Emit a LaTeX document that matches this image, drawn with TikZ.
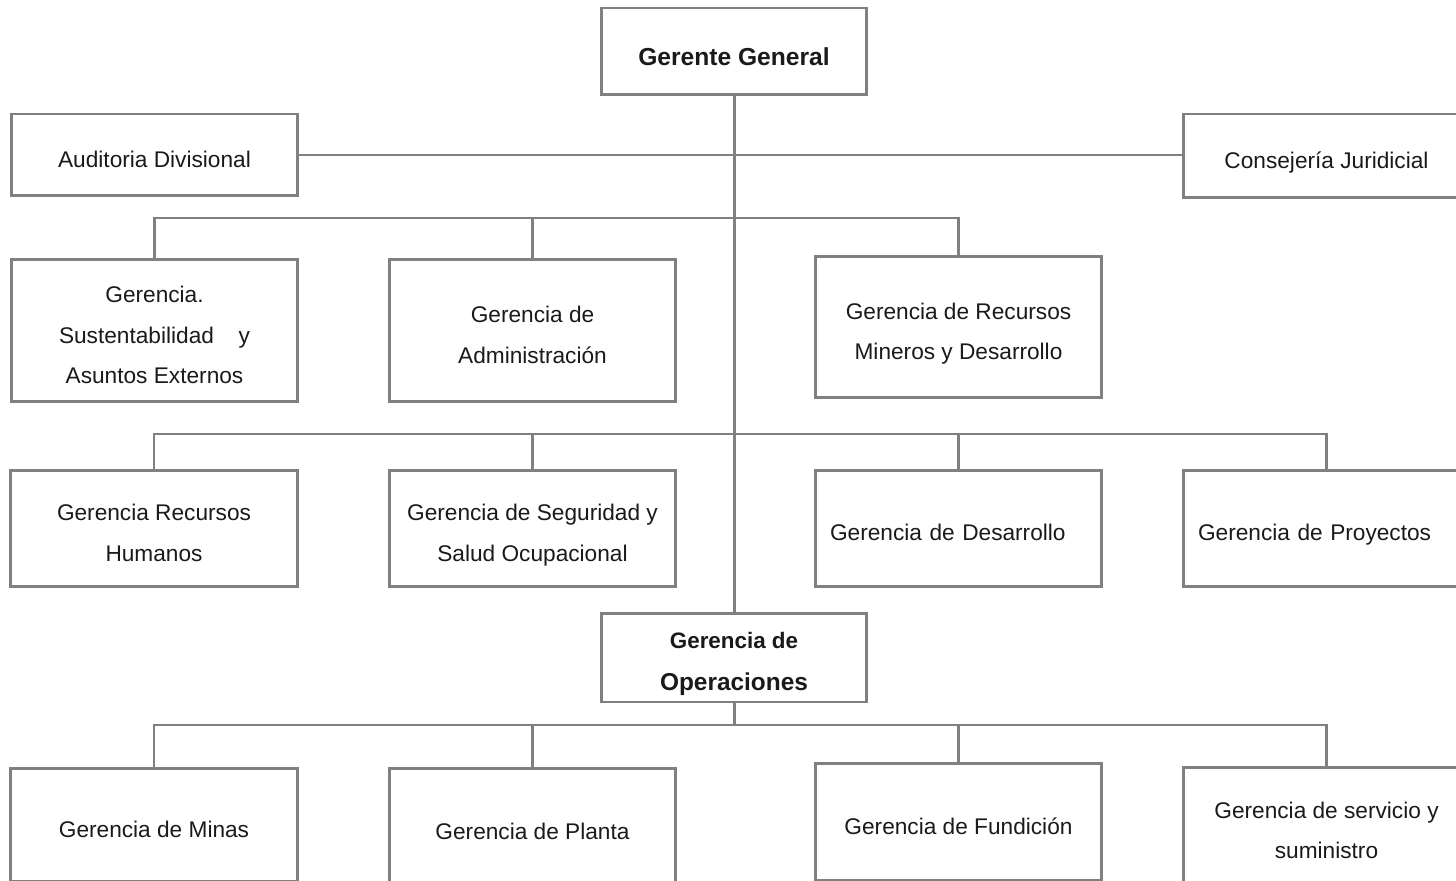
\documentclass[tikz,border=0pt]{standalone}
\usepackage{fontspec}
\setmainfont{Liberation Sans}
\usetikzlibrary{positioning}

\definecolor{boxgray}{RGB}{128,128,128}
\definecolor{txtgray}{RGB}{26,26,26}

\begin{document}
\begin{tikzpicture}[x=0.02cm,y=-0.02cm,
    box/.style={draw=boxgray,fill=white,line width=1.7pt,minimum width=5.74cm,
        inner sep=0pt,align=center,text=txtgray,font=\fontsize{12.9}{23.3}\selectfont,
        text height=0.62cm,text depth=0.12cm},
    twolines/.style={text height=1.44cm},
    threelines/.style={text height=2.26cm},
    boxl/.style={box,align=left,text width=5.14cm},
    link/.style={draw=boxgray,line width=1.7pt}]

    % Page frame (the picture is cut at the right and bottom)
    \useasboundingbox (0,0) rectangle (1456,881);
    \clip (0,0) rectangle (1456,881);
    \fill [white] (0,0) rectangle (1456,881);

    % Bus lines
    \coordinate (bus1) at (0,218);
    \coordinate (bus2) at (0,434);
    \coordinate (bus3) at (0,725);

    % Top
    \node [box,minimum width=5.32cm,minimum height=1.74cm,text height=0.69cm,
        font=\bfseries\fontsize{14}{17}\selectfont] (gg) at (734,51.5) {Gerente General};
    \node [box,minimum height=1.64cm] (aud) at (154.5,155) {Auditoria Divisional};
    \node [box,minimum height=1.68cm] (cons) at (1326.5,156) {Consejería Juridicial};

    % First row
    \node [box,threelines,minimum height=2.86cm] (sus) at (154.5,330.5)
        {Gerencia.\\\makebox[3.82cm]{Sustentabilidad\hfill y}\\Asuntos Externos};
    \node [box,twolines,minimum height=2.86cm] (adm) at (532.5,330.5) {Gerencia de\\Administración};
    \node [box,twolines,minimum height=2.84cm] (rmd) at (958.5,327) {Gerencia de Recursos\\Mineros y Desarrollo};

    % Second row
    \node [box,twolines,minimum height=2.34cm] (rrh) at (154,528.5) {Gerencia Recursos\\Humanos};
    \node [box,twolines,minimum height=2.34cm] (seg) at (532.5,528.5) {Gerencia de Seguridad y\\Salud Ocupacional};
    \node [boxl,minimum height=2.34cm] (des) at (958.5,528.5) {Gerencia de Desarrollo};
    \node [boxl,minimum height=2.34cm] (pro) at (1326.5,528.5) {Gerencia de Proyectos};

    % Operations
    \node [box,minimum width=5.32cm,minimum height=1.78cm,text height=1.46cm,
        font=\bfseries\fontsize{12.75}{24}\selectfont] (ope) at (734,657.5)
        {Gerencia de\\\fontsize{13.9}{24}\selectfont Operaciones};

    % Bottom row
    \node [box,minimum height=2.26cm] (min) at (154,824.5) {Gerencia de Minas};
    \node [box,minimum height=2.34cm] (pla) at (532.5,826.5) {Gerencia de Planta};
    \node [box,minimum height=2.34cm] (fun) at (958.5,821.5) {Gerencia de Fundición};
    \node [box,twolines,minimum height=2.36cm] (ser) at (1326.5,826) {Gerencia de servicio y\\suministro};

    % Connectors
    \draw [link] (gg.south) -- (ope.north);
    \draw [link] (aud.east) -- (aud.east -| cons.west);

    \draw [link] (sus.north) -- (sus.north |- bus1) -- (rmd.north |- bus1) -- (rmd.north);
    \draw [link] (adm.north) -- (adm.north |- bus1);

    \draw [link] (rrh.north) -- (rrh.north |- bus2) -- (pro.north |- bus2) -- (pro.north);
    \draw [link] (seg.north) -- (seg.north |- bus2);
    \draw [link] (des.north) -- (des.north |- bus2);

    \draw [link] (ope.south) -- (ope.south |- bus3);
    \draw [link] (min.north) -- (min.north |- bus3) -- (ser.north |- bus3) -- (ser.north);
    \draw [link] (pla.north) -- (pla.north |- bus3);
    \draw [link] (fun.north) -- (fun.north |- bus3);

\end{tikzpicture}
\end{document}
